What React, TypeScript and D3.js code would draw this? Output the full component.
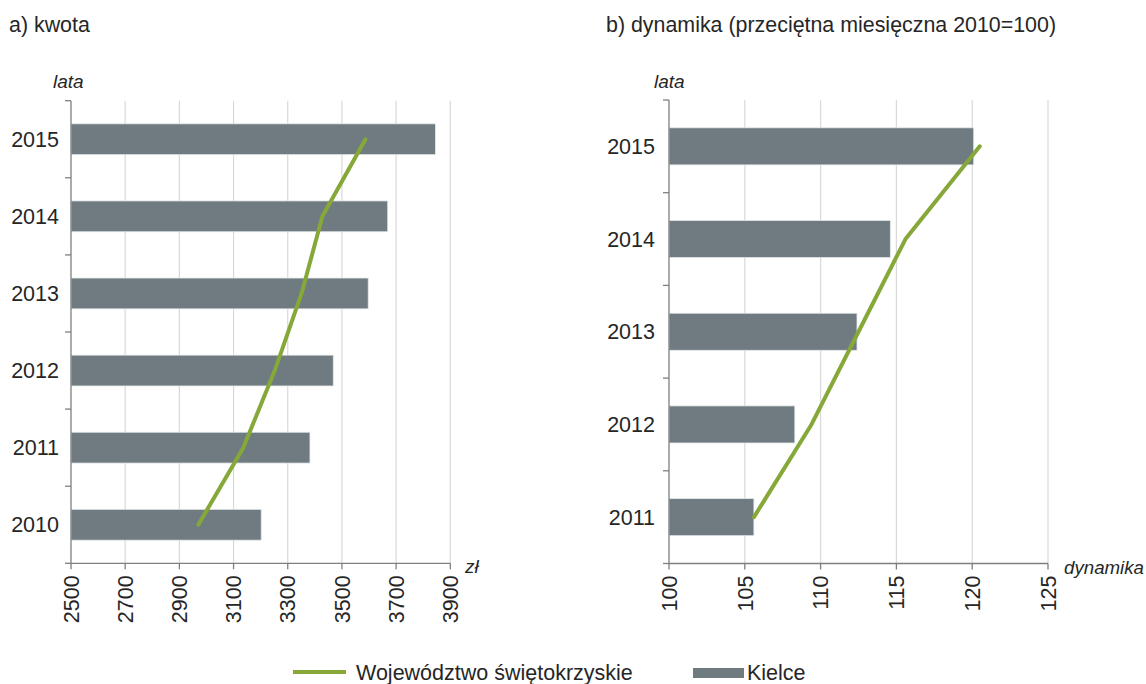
import React from "react";
import * as d3 from "d3";

const yearsA = ["2015", "2014", "2013", "2012", "2011", "2010"];
const kielceA = [3845, 3669, 3597, 3468, 3382, 3202];
const wojA = [3587, 3428, 3351, 3252, 3136, 2970];
const ticksA = [2500, 2700, 2900, 3100, 3300, 3500, 3700, 3900];

const yearsB = ["2015", "2014", "2013", "2012", "2011"];
const kielceB = [120.1, 114.6, 112.4, 108.3, 105.6];
const wojB = [120.5, 115.6, 112.5, 109.4, 105.6];
const ticksB = [100, 105, 110, 115, 120, 125];

const BAR = "#6f7b80";
const GREEN = "#86a839";
const GRID = "#d9d9d9";
const AXIS = "#7f7f7f";
const TEXT = "#262626";
const FONT = "'Liberation Sans', Arial, sans-serif";

type PanelProps = {
  years: string[];
  bars: number[];
  line: number[];
  ticks: number[];
  x0: number;
  x1: number;
  y0: number;
  y1: number;
  labelRight: number;
  unit: string;
  unitX: number;
  unitSize: number;
};

function Panel(p: PanelProps) {
  const x = d3.scaleLinear().domain([p.ticks[0], p.ticks[p.ticks.length - 1]]).range([p.x0, p.x1]);
  const y = d3.scaleBand<string>().domain(p.years).range([p.y0, p.y1]).paddingInner(0.6).paddingOuter(0.3);
  const band = d3.scaleBand<string>().domain(p.years).range([p.y0, p.y1]);
  const lineGen = d3
    .line<number>()
    .x((d) => x(d))
    .y((_, i) => (band(p.years[i]) as number) + band.bandwidth() / 2);
  const boundaries = d3.range(p.years.length + 1).map((i) => p.y0 + i * band.step());
  return (
    <g>
      {p.ticks.slice(1).map((t) => (
        <line key={"g" + t} x1={x(t)} x2={x(t)} y1={p.y0} y2={p.y1} stroke={GRID} strokeWidth={1.2} />
      ))}
      {p.years.map((yr, i) => (
        <rect
          key={"b" + yr}
          x={x(p.ticks[0])}
          y={y(yr)}
          width={x(p.bars[i]) - x(p.ticks[0])}
          height={y.bandwidth()}
          fill={BAR}
          stroke="#e4e8ea"
          strokeWidth={0.8}
        />
      ))}
      <path d={lineGen(p.line) || ""} fill="none" stroke={GREEN} strokeWidth={4} strokeLinejoin="round" strokeLinecap="round" />
      <line x1={p.x0} x2={p.x0} y1={p.y0} y2={p.y1} stroke={AXIS} strokeWidth={1.3} />
      {boundaries.map((b, i) => (
        <line key={"t" + i} x1={p.x0 - 6} x2={p.x0} y1={b} y2={b} stroke={AXIS} strokeWidth={1.3} />
      ))}
      <line x1={p.x0} x2={p.x1} y1={p.y1} y2={p.y1} stroke={AXIS} strokeWidth={1.3} />
      {p.ticks.map((t) => (
        <line key={"xt" + t} x1={x(t)} x2={x(t)} y1={p.y1} y2={p.y1 + 6} stroke={AXIS} strokeWidth={1.3} />
      ))}
      {p.years.map((yr) => (
        <text
          key={"yl" + yr}
          x={p.labelRight}
          y={(band(yr) as number) + band.bandwidth() / 2}
          dy="0.36em"
          textAnchor="end"
          fontSize={21.5}
          fill={TEXT}
        >
          {yr}
        </text>
      ))}
      {p.ticks.map((t) => (
        <text
          key={"xl" + t}
          transform={`translate(${x(t)},${p.y1 + 12}) rotate(-90)`}
          dy="0.36em"
          textAnchor="end"
          fontSize={21.5}
          fill={TEXT}
        >
          {t}
        </text>
      ))}
      <text x={p.unitX} y={p.y1 + 10} fontSize={p.unitSize} fontStyle="italic" fill={TEXT}>
        {p.unit}
      </text>
    </g>
  );
}

export default function App() {
  return (
    <svg
      width={1146}
      height={684}
      style={{ position: "absolute", left: 0, top: 0, display: "block", background: "#fff" }}
      fontFamily={FONT}
    >
      <text x={9} y={32} fontSize={21.4} fill={TEXT}>a) kwota</text>
      <text x={606} y={32} fontSize={21.4} fill={TEXT}>b) dynamika (przeciętna miesięczna 2010=100)</text>
      <text x={53} y={88} fontSize={19} fontStyle="italic" fill={TEXT}>lata</text>
      <text x={654} y={88} fontSize={19} fontStyle="italic" fill={TEXT}>lata</text>
      <Panel
        years={yearsA}
        bars={kielceA}
        line={wojA}
        ticks={ticksA}
        x0={71}
        x1={450.3}
        y0={100.7}
        y1={563.3}
        labelRight={59}
        unit="zł"
        unitX={465}
        unitSize={19}
      />
      <Panel
        years={yearsB}
        bars={kielceB}
        line={wojB}
        ticks={ticksB}
        x0={669}
        x1={1048}
        y0={100}
        y1={563.5}
        labelRight={655}
        unit="dynamika"
        unitX={1064}
        unitSize={18.7}
      />
      <line x1={293} x2={346} y1={672} y2={672} stroke={GREEN} strokeWidth={4} />
      <text x={356} y={680} fontSize={21.5} fill={TEXT}>Województwo świętokrzyskie</text>
      <rect x={693} y={668} width={51} height={10} fill={BAR} />
      <text x={747} y={680} fontSize={21.5} fill={TEXT}>Kielce</text>
    </svg>
  );
}
